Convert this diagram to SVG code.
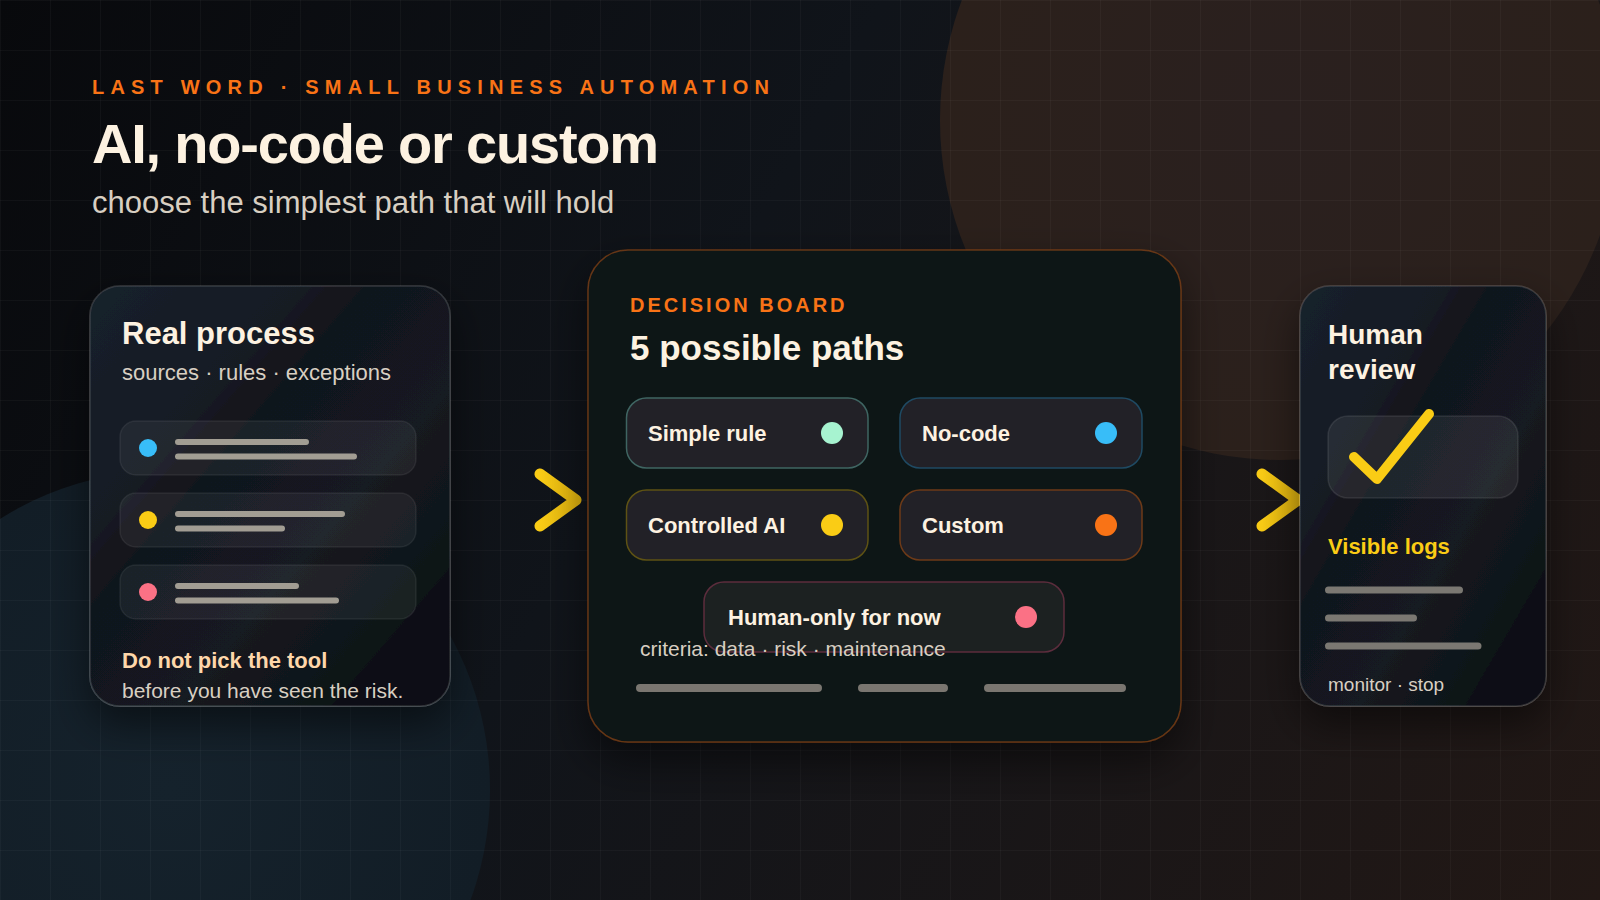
<svg xmlns="http://www.w3.org/2000/svg" width="1600" height="900" viewBox="0 0 1600 900">
<defs>
  <style>
    .sans{font-family:"Liberation Sans",Arial,sans-serif}
    .eyebrow{font-family:"Liberation Sans",Arial,sans-serif;font-weight:700;fill:#f97316;font-size:20px}
    .h1{font-family:"Liberation Sans",Arial,sans-serif;font-weight:700;fill:#fdf2e1}
    .sub{font-family:"Liberation Sans",Arial,sans-serif;fill:#d8cfc2}
    .pilltxt{font-family:"Liberation Sans",Arial,sans-serif;font-weight:700;font-size:22px;fill:#fdf2e1}
    .pill{fill:#222127;stroke-width:1.5}
    .row{fill:#ffffff;fill-opacity:0.055;stroke:#ffffff;stroke-opacity:0.07;stroke-width:1.5}
    .ln{stroke:#a29d93;stroke-width:6;stroke-linecap:round;fill:none}
    .bar{stroke:#7a7670;stroke-width:8;stroke-linecap:round;fill:none}
    .rln{stroke:#7b7872;stroke-width:7;stroke-linecap:round;fill:none}
    .card{stroke:#ffffff;stroke-opacity:0.14;stroke-width:1.5}
    .chev{fill:none;stroke:url(#chevGrad);stroke-width:11;stroke-linecap:round;stroke-linejoin:round}
  </style>
  <linearGradient id="bg" x1="0" y1="0" x2="1600" y2="900" gradientUnits="userSpaceOnUse">
    <stop offset="0" stop-color="#08090c"/>
    <stop offset="0.42" stop-color="#10141a"/>
    <stop offset="1" stop-color="#221815"/>
  </linearGradient>
  <radialGradient id="brown" cx="1280" cy="120" r="340" gradientUnits="userSpaceOnUse">
    <stop offset="0" stop-color="#2a201f"/>
    <stop offset="1" stop-color="#2b201b"/>
  </radialGradient>
  <radialGradient id="teal" cx="170" cy="790" r="320" gradientUnits="userSpaceOnUse">
    <stop offset="0" stop-color="#15222c"/>
    <stop offset="1" stop-color="#121d26"/>
  </radialGradient>
  <pattern id="grid" width="50" height="50" patternUnits="userSpaceOnUse">
    <path d="M0 0.5 H50 M0.5 0 V50" fill="none" stroke="#ffffff" stroke-opacity="0.03" stroke-width="1"/>
  </pattern>
  <linearGradient id="cardGrad" x1="0" y1="0" x2="1" y2="1">
    <stop offset="0" stop-color="#18212b"/>
    <stop offset="0.30" stop-color="#141b24"/>
    <stop offset="0.33" stop-color="#19161f"/>
    <stop offset="0.39" stop-color="#10161f"/>
    <stop offset="0.62" stop-color="#141a20"/>
    <stop offset="0.82" stop-color="#0f1518"/>
    <stop offset="0.85" stop-color="#0c0e15"/>
    <stop offset="1" stop-color="#0b0d13"/>
  </linearGradient>
  <linearGradient id="chevGrad" x1="0" y1="0" x2="1" y2="0">
    <stop offset="0" stop-color="#facc15"/>
    <stop offset="1" stop-color="#dfb20f"/>
  </linearGradient>
  <filter id="shadow" x="-25%" y="-20%" width="150%" height="150%">
    <feDropShadow dx="0" dy="18" stdDeviation="20" flood-color="#000000" flood-opacity="0.5"/>
  </filter>
</defs>

<g id="background">
  <rect x="0" y="0" width="1600" height="900" fill="url(#bg)"/>
  <circle cx="1280" cy="120" r="340" fill="url(#brown)"/>
  <circle cx="170" cy="790" r="320" fill="url(#teal)"/>
  <rect x="0" y="0" width="1600" height="900" fill="url(#grid)"/>
</g>

<g id="header">
  <text class="eyebrow" x="92" y="94" letter-spacing="6.2">LAST WORD · SMALL BUSINESS AUTOMATION</text>
  <text class="h1" x="92" y="163" font-size="56" letter-spacing="-1.2">AI, no-code or custom</text>
  <text class="sub" x="92" y="213" font-size="31">choose the simplest path that will hold</text>
</g>

<g id="connectors">
  <path class="chev" d="M540,474 L576,500 L540,526"/>
  <path class="chev" d="M1262,474 L1298,500 L1262,526"/>
</g>

<g id="node-real-process">
  <rect class="card" x="90" y="286" width="360" height="420" rx="30" fill="url(#cardGrad)" filter="url(#shadow)"/>
  <text class="h1" x="122" y="344" font-size="31">Real process</text>
  <text class="sub" x="122" y="380" font-size="22">sources · rules · exceptions</text>
  <rect class="row" x="120" y="421" width="296" height="54" rx="16"/>
  <circle cx="148" cy="448" r="9" fill="#38bdf8"/>
  <path class="ln" d="M178,442 H306 M178,456.5 H354"/>
  <rect class="row" x="120" y="493" width="296" height="54" rx="16"/>
  <circle cx="148" cy="520" r="9" fill="#facc15"/>
  <path class="ln" d="M178,514 H342 M178,528.5 H282"/>
  <rect class="row" x="120" y="565" width="296" height="54" rx="16"/>
  <circle cx="148" cy="592" r="9" fill="#fb7185"/>
  <path class="ln" d="M178,586 H296 M178,600.5 H336"/>
  <text class="sans" x="122" y="668" font-size="22" font-weight="700" fill="#fed7aa">Do not pick the tool</text>
  <text class="sub" x="122" y="698" font-size="21">before you have seen the risk.</text>
</g>

<g id="node-decision-board">
  <rect x="588" y="250" width="593" height="492" rx="40" fill="#0d1517" stroke="#7a3f14" stroke-opacity="0.8" stroke-width="1.5" filter="url(#shadow)"/>
  <text class="eyebrow" x="630" y="312" letter-spacing="3">DECISION BOARD</text>
  <text class="h1" x="630" y="360" font-size="35">5 possible paths</text>

  <g id="opt-simple-rule">
    <rect class="pill" x="626.5" y="398" width="241.5" height="70" rx="20" stroke="#3f6562"/>
    <text class="pilltxt" x="648" y="441">Simple rule</text>
    <circle cx="832" cy="433" r="11" fill="#a7f3d0"/>
  </g>
  <g id="opt-no-code">
    <rect class="pill" x="900" y="398" width="242" height="70" rx="20" stroke="#1f4a63"/>
    <text class="pilltxt" x="922" y="441">No-code</text>
    <circle cx="1106" cy="433" r="11" fill="#38bdf8"/>
  </g>
  <g id="opt-controlled-ai">
    <rect class="pill" x="626.5" y="490" width="241.5" height="70" rx="20" stroke="#5e5214"/>
    <text class="pilltxt" x="648" y="533">Controlled AI</text>
    <circle cx="832" cy="525" r="11" fill="#facc15"/>
  </g>
  <g id="opt-custom">
    <rect class="pill" x="900" y="490" width="242" height="70" rx="20" stroke="#6d3a18"/>
    <text class="pilltxt" x="922" y="533">Custom</text>
    <circle cx="1106" cy="525" r="11" fill="#f97316"/>
  </g>
  <g id="opt-human-only">
    <rect x="704" y="582" width="360" height="70" rx="20" fill="#1c2121" stroke="#5c2d3d" stroke-width="1.5"/>
    <text class="pilltxt" x="728" y="625">Human-only for now</text>
    <circle cx="1026" cy="617" r="11" fill="#fb7185"/>
  </g>
  <text class="sub" x="640" y="656" font-size="21">criteria: data · risk · maintenance</text>
  <path class="bar" d="M640,688 H818 M862,688 H944 M988,688 H1122"/>
</g>

<g id="node-human-review">
  <rect class="card" x="1300" y="286" width="246" height="420" rx="30" fill="url(#cardGrad)" filter="url(#shadow)"/>
  <text class="h1" x="1328" y="344" font-size="28">Human</text>
  <text class="h1" x="1328" y="379" font-size="28">review</text>
  <rect x="1328" y="416" width="190" height="82" rx="20" fill="#ffffff" fill-opacity="0.07" stroke="#ffffff" stroke-opacity="0.09" stroke-width="1.5"/>
  <path d="M1354,457 L1377,479 L1429,414" fill="none" stroke="#facc15" stroke-width="10" stroke-linecap="round" stroke-linejoin="round"/>
  <text class="sans" x="1328" y="554" font-size="22" font-weight="700" fill="#facc15">Visible logs</text>
  <path class="rln" d="M1328.5,590 H1459.5 M1328.5,618 H1413.5 M1328.5,646 H1478"/>
  <text class="sub" x="1328" y="691" font-size="19">monitor · stop</text>
</g>
</svg>
